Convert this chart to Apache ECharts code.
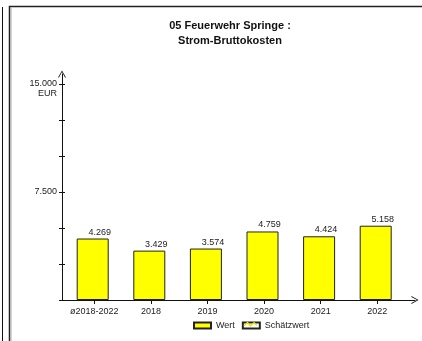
<!DOCTYPE html>
<html>
<head>
<meta charset="utf-8">
<script src="https://cdn.jsdelivr.net/npm/echarts@6/dist/echarts.min.js"></script>
<style>html,body{margin:0;padding:0;background:#fff}#c{width:422px;height:341px}</style>
</head>
<body>
<div id="c"></div>
<script>
const categories = ['ø2018-2022', '2018', '2019', '2020', '2021', '2022'];
const wertValues = [4269, 3429, 3574, 4759, 4424, 5158];
const yTickLabels = {15000: '15.000', 7500: '7.500'};
const titleLines = ['05 Feuerwehr Springe :', 'Strom-Bruttokosten'];
const legendNames = ['Wert', 'Schätzwert'];

const FONT = '"Liberation Sans", Arial, sans-serif';
const fmt = v => String(v).replace(/\B(?=(\d{3})+(?!\d))/g, '.');
const chevron = 'path://M5,0 L10,9 L8.8,9 L5,2 L1.2,9 L0,9 Z';

const chart = echarts.init(document.getElementById('c'), null, {renderer: 'canvas'});
chart.setOption({
  animation: false,
  backgroundColor: '#fff',
  textStyle: {fontFamily: FONT},
  title: {
    text: titleLines.join('\n'),
    left: 225, top: 13, textAlign: 'center',
    textStyle: {fontFamily: FONT, fontSize: 11, fontWeight: 'bold', color: '#111', lineHeight: 15}
  },
  legend: {
    data: legendNames,
    left: 193, top: 321, padding: 0,
    itemWidth: 17, itemHeight: 6, itemGap: 7,
    icon: 'rect',
    textStyle: {fontFamily: FONT, fontSize: 9, color: '#222'},
    selectedMode: false
  },
  grid: [
    {left: 66, right: 16.4, top: 84, bottom: 41},
    {left: 62, right: 7, top: 74, bottom: 41}
  ],
  xAxis: [
    {
      type: 'category', gridIndex: 0, data: categories,
      axisLine: {show: false},
      axisTick: {show: true, alignWithLabel: true, interval: 0, length: 4, lineStyle: {color: '#111'}},
      axisLabel: {fontFamily: FONT, fontSize: 9, color: '#222', margin: 7, interval: 0}
    },
    {
      type: 'value', gridIndex: 1, min: 0, max: 1,
      axisLine: {show: true, lineStyle: {color: '#111', width: 1}, symbol: ['none', chevron], symbolSize: [8, 10]},
      axisTick: {show: false}, axisLabel: {show: false}, splitLine: {show: false}
    }
  ],
  yAxis: [
    {
      type: 'value', gridIndex: 0, min: 0, max: 15000, interval: 2500, offset: 1,
      axisLine: {show: false},
      axisTick: {show: true, length: 6, lineStyle: {color: '#111'}},
      axisLabel: {fontFamily: FONT, fontSize: 9, color: '#222', margin: 8,
        formatter: v => yTickLabels[v] || ''},
      splitLine: {show: false}
    },
    {
      type: 'value', gridIndex: 1, min: 0, max: 1,
      axisLine: {show: true, lineStyle: {color: '#111', width: 1}, symbol: ['none', chevron], symbolSize: [8, 10]},
      axisTick: {show: false}, axisLabel: {show: false}, splitLine: {show: false}
    }
  ],
  series: [
    {
      name: legendNames[0], type: 'bar', xAxisIndex: 0, yAxisIndex: 0,
      data: wertValues, barWidth: 32,
      itemStyle: {color: '#ffff00', borderColor: '#222', borderWidth: 1},
      label: {show: true, position: 'top', distance: 2, offset: [7, 0],
        fontFamily: FONT, fontSize: 9, color: '#222', formatter: p => fmt(p.value)}
    },
    {
      name: legendNames[1], type: 'bar', xAxisIndex: 0, yAxisIndex: 0,
      data: [], itemStyle: {color: '#ffffff', borderColor: '#222', borderWidth: 1}
    }
  ],
  graphic: [
    {type: 'line', shape: {x1: 2.5, y1: 7, x2: 2.5, y2: 341}, style: {stroke: '#111', lineWidth: 1}},
    {type: 'polyline', shape: {points: [[9.5, 341], [9.5, 6.5], [422, 6.5]]}, style: {stroke: '#222', lineWidth: 1.5, fill: null}},
    {type: 'line', shape: {x1: 11, y1: 8, x2: 11, y2: 341}, style: {stroke: '#aaa', lineWidth: 1}},
    {type: 'text', left: 38, top: 89, style: {text: 'EUR', font: '9px ' + FONT, fill: '#222'}},
    {type: 'polyline', z: 100, shape: {points: [[244, 326], [247.5, 322.5], [250.5, 326], [254, 322.5], [257, 325.5]]}, style: {stroke: '#e6e600', lineWidth: 1.2, fill: null}}
  ]
});
</script>
</body>
</html>
